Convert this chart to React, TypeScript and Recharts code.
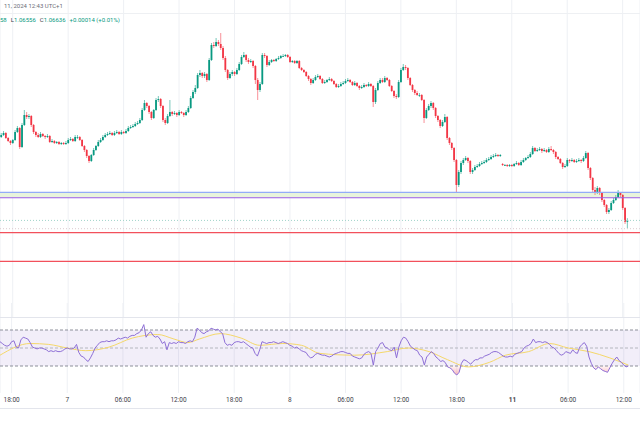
import { Area, Bar, CartesianGrid, ComposedChart, Line, ReferenceArea, ReferenceLine, XAxis, YAxis } from 'recharts'

// EUR/USD 15m candles, Nov 6 16:45 -> Nov 11 12:30 (UTC+1)
const closes = [
  1.0749, 1.0751, 1.0746, 1.0743, 1.0741, 1.0744, 1.0752, 1.0756, 1.0737, 1.0759,
  1.0769, 1.0767, 1.0768, 1.0759, 1.0752, 1.0749, 1.0747, 1.075, 1.0748, 1.0747,
  1.0748, 1.0742, 1.0743, 1.0741, 1.0742, 1.074, 1.0741, 1.074, 1.0741, 1.0744,
  1.0745, 1.0743, 1.0747, 1.0747, 1.0744, 1.0738, 1.0734, 1.0728, 1.0723, 1.0729,
  1.0734, 1.0738, 1.0742, 1.0744, 1.0747, 1.0749, 1.075, 1.0751, 1.0749, 1.0751,
  1.0752, 1.075, 1.0752, 1.0751, 1.0753, 1.0756, 1.0757, 1.0758, 1.076, 1.0761,
  1.0764, 1.0774, 1.0781, 1.0778, 1.0772, 1.0766, 1.0774, 1.0784, 1.0785, 1.0778,
  1.0764, 1.0761, 1.0768, 1.0772, 1.077, 1.0771, 1.0769, 1.0772, 1.0771, 1.0769,
  1.0772, 1.0776, 1.0786, 1.0792, 1.0796, 1.0809, 1.0811, 1.0808, 1.081, 1.0804,
  1.0824, 1.0839, 1.0838, 1.0842, 1.084, 1.0836, 1.0826, 1.0814, 1.0806, 1.081,
  1.0812, 1.081, 1.0814, 1.082, 1.0827, 1.0829, 1.0824, 1.0822, 1.0823, 1.0818,
  1.0804, 1.0794, 1.08, 1.0829, 1.0828, 1.0819, 1.0822, 1.0824, 1.0823, 1.0825,
  1.0826, 1.0828, 1.0828, 1.0829, 1.0827, 1.0822, 1.0823, 1.0821, 1.0823, 1.0816,
  1.0814, 1.0812, 1.0808, 1.0805, 1.0801, 1.0804, 1.0807, 1.0808, 1.0805, 1.0801,
  1.0802, 1.0804, 1.0805, 1.0803, 1.08, 1.0797, 1.0798, 1.08, 1.0801, 1.0803,
  1.0804, 1.0802, 1.0799, 1.0801, 1.0798, 1.0796, 1.0797, 1.0799, 1.0798, 1.08,
  1.0798, 1.0782, 1.0794, 1.0801, 1.0804, 1.0802, 1.0806, 1.0804, 1.0798, 1.0793,
  1.0788, 1.0787, 1.0802, 1.0814, 1.0817, 1.0816, 1.0806, 1.0799, 1.0794, 1.0791,
  1.0789, 1.0789, 1.0784, 1.0766, 1.0774, 1.0778, 1.0781, 1.0776, 1.0768, 1.0764,
  1.0758, 1.0762, 1.0767, 1.0746, 1.0741, 1.0736, 1.0724, 1.0699, 1.0712, 1.0721,
  1.0724, 1.0726, 1.0723, 1.0712, 1.0714, 1.0717, 1.0718, 1.072, 1.0721, 1.0722,
  1.0724, 1.0725, 1.0727, 1.0728, 1.0729, 1.0728, 1.0729, 1.0719, 1.0719, 1.0718,
  1.0719, 1.0718, 1.072, 1.0721, 1.0719, 1.0722, 1.0724, 1.0726, 1.0727, 1.073,
  1.0736, 1.0733, 1.0734, 1.0735, 1.0733, 1.0734, 1.0732, 1.0735, 1.0734, 1.0732,
  1.0727, 1.0725, 1.0721, 1.0717, 1.0718, 1.0724, 1.0723, 1.0724, 1.0722, 1.0723,
  1.0724, 1.0723, 1.0726, 1.0731, 1.0716, 1.0706, 1.0694, 1.0692, 1.0696, 1.0691,
  1.0684, 1.0679, 1.0672, 1.0674, 1.0681, 1.0684, 1.0687, 1.0691, 1.0689, 1.0676,
  1.06622, 1.06636,
]

const highs = [
  1.0751, 1.0753, 1.0752, 1.0747, 1.0744, 1.0745, 1.0754, 1.0758, 1.0757, 1.0761,
  1.0774, 1.0772, 1.077, 1.0769, 1.076, 1.0753, 1.0751, 1.0752, 1.0751, 1.0749,
  1.075, 1.0749, 1.0745, 1.0744, 1.0743, 1.0743, 1.0742, 1.0742, 1.0743, 1.0746,
  1.0747, 1.0746, 1.0749, 1.0749, 1.0748, 1.0745, 1.0739, 1.0735, 1.0729, 1.073,
  1.0736, 1.0739, 1.0744, 1.0746, 1.0749, 1.0751, 1.0752, 1.0753, 1.0752, 1.0753,
  1.0754, 1.0753, 1.0754, 1.0753, 1.0755, 1.0758, 1.0759, 1.076, 1.0762, 1.0763,
  1.0766, 1.0776, 1.0784, 1.0782, 1.0779, 1.0773, 1.0775, 1.0786, 1.0788, 1.0786,
  1.0779, 1.0766, 1.077, 1.0784, 1.0773, 1.0773, 1.0772, 1.0774, 1.0773, 1.0772,
  1.0774, 1.0778, 1.0788, 1.0794, 1.0799, 1.0811, 1.0814, 1.0812, 1.0812, 1.0811,
  1.0826, 1.0841, 1.0842, 1.0846, 1.0844, 1.0851, 1.0838, 1.0828, 1.0815, 1.0812,
  1.0814, 1.0813, 1.0816, 1.0822, 1.0829, 1.0832, 1.083, 1.0826, 1.0825, 1.0824,
  1.0819, 1.0806, 1.0802, 1.0831, 1.0831, 1.0829, 1.0824, 1.0825, 1.0825, 1.0826,
  1.0828, 1.0829, 1.083, 1.083, 1.083, 1.0828, 1.0824, 1.0824, 1.0824, 1.0824,
  1.0817, 1.0815, 1.0813, 1.0809, 1.0806, 1.0806, 1.0809, 1.081, 1.0809, 1.0806,
  1.0804, 1.0805, 1.0807, 1.0806, 1.0804, 1.0801, 1.08, 1.0802, 1.0803, 1.0805,
  1.0806, 1.0805, 1.0803, 1.0803, 1.0802, 1.0799, 1.0799, 1.0801, 1.08, 1.0802,
  1.0801, 1.0799, 1.0796, 1.0803, 1.0806, 1.0806, 1.0808, 1.0807, 1.0805, 1.0799,
  1.0794, 1.079, 1.0804, 1.0816, 1.082, 1.0819, 1.0817, 1.0807, 1.08, 1.0795,
  1.0793, 1.0791, 1.079, 1.0785, 1.0776, 1.078, 1.0783, 1.0782, 1.0777, 1.0769,
  1.0765, 1.0764, 1.077, 1.0768, 1.0747, 1.0742, 1.0737, 1.0725, 1.0714, 1.0723,
  1.0726, 1.0728, 1.0727, 1.0724, 1.0716, 1.0719, 1.072, 1.0722, 1.0723, 1.0724,
  1.0726, 1.0727, 1.0729, 1.073, 1.0731, 1.073, 1.073, 1.0721, 1.072, 1.072,
  1.072, 1.072, 1.0721, 1.0723, 1.0722, 1.0724, 1.0726, 1.0727, 1.0729, 1.0732,
  1.0738, 1.0737, 1.0736, 1.0737, 1.0736, 1.0736, 1.0735, 1.0737, 1.0738, 1.0735,
  1.0733, 1.0728, 1.0726, 1.0722, 1.072, 1.0726, 1.0725, 1.0726, 1.0725, 1.0725,
  1.0726, 1.0725, 1.0728, 1.0733, 1.0732, 1.0717, 1.0707, 1.0697, 1.0698, 1.0697,
  1.0692, 1.0685, 1.068, 1.0676, 1.0683, 1.0686, 1.0689, 1.0694, 1.0692, 1.069,
  1.0677, 1.06658,
]

const lows = [
  1.0746, 1.0748, 1.0745, 1.0742, 1.0739, 1.074, 1.0743, 1.0751, 1.0735, 1.0736,
  1.0758, 1.0765, 1.0765, 1.0757, 1.075, 1.0747, 1.0746, 1.0746, 1.0747, 1.0745,
  1.0746, 1.0741, 1.0741, 1.074, 1.074, 1.0739, 1.0739, 1.0739, 1.0739, 1.074,
  1.0743, 1.0742, 1.0742, 1.0745, 1.0743, 1.0737, 1.0732, 1.0726, 1.0721, 1.0722,
  1.0728, 1.0733, 1.0737, 1.0741, 1.0743, 1.0746, 1.0748, 1.0749, 1.0748, 1.0748,
  1.075, 1.0749, 1.0749, 1.075, 1.075, 1.0752, 1.0755, 1.0756, 1.0757, 1.0759,
  1.076, 1.0763, 1.0773, 1.0776, 1.077, 1.0764, 1.0765, 1.0773, 1.0782, 1.0776,
  1.0762, 1.0759, 1.076, 1.0767, 1.0768, 1.0769, 1.0767, 1.0768, 1.077, 1.0767,
  1.0768, 1.0771, 1.0775, 1.0785, 1.079, 1.0795, 1.0807, 1.0806, 1.0806, 1.0802,
  1.0803, 1.0823, 1.0836, 1.0837, 1.0838, 1.0834, 1.0824, 1.0812, 1.0804, 1.0805,
  1.0808, 1.0808, 1.0809, 1.0813, 1.0819, 1.0826, 1.0822, 1.082, 1.0821, 1.0816,
  1.08, 1.0784, 1.0792, 1.0799, 1.0826, 1.0817, 1.0818, 1.0821, 1.0822, 1.0822,
  1.0824, 1.0825, 1.0827, 1.0827, 1.0826, 1.0821, 1.0821, 1.082, 1.082, 1.0815,
  1.0813, 1.0811, 1.0807, 1.0803, 1.0799, 1.08, 1.0803, 1.0806, 1.0804, 1.08,
  1.08, 1.0801, 1.0803, 1.0802, 1.0799, 1.0796, 1.0796, 1.0797, 1.0799, 1.08,
  1.0802, 1.0801, 1.0798, 1.0798, 1.0797, 1.0794, 1.0795, 1.0796, 1.0797, 1.0797,
  1.0797, 1.0777, 1.078, 1.0793, 1.08, 1.0801, 1.0801, 1.0803, 1.0797, 1.0792,
  1.0786, 1.0785, 1.0786, 1.0801, 1.0813, 1.0814, 1.0804, 1.0798, 1.0792, 1.0789,
  1.0788, 1.0787, 1.0783, 1.0761, 1.0765, 1.0773, 1.0776, 1.0774, 1.0766, 1.0762,
  1.0756, 1.0757, 1.0761, 1.0744, 1.0739, 1.0734, 1.0722, 1.0692, 1.0697, 1.071,
  1.0719, 1.0723, 1.0721, 1.071, 1.071, 1.0713, 1.0716, 1.0717, 1.0719, 1.072,
  1.0721, 1.0723, 1.0724, 1.0726, 1.0727, 1.0727, 1.0727, 1.0718, 1.0718, 1.0717,
  1.0717, 1.0717, 1.0717, 1.0719, 1.0718, 1.0718, 1.0721, 1.0723, 1.0725, 1.0726,
  1.0729, 1.0732, 1.0732, 1.0733, 1.0731, 1.0732, 1.0731, 1.0731, 1.0733, 1.073,
  1.0725, 1.0724, 1.072, 1.0715, 1.0716, 1.0717, 1.0721, 1.0722, 1.0721, 1.0721,
  1.0722, 1.0721, 1.0722, 1.0725, 1.0714, 1.0704, 1.0692, 1.0689, 1.069, 1.0689,
  1.0682, 1.0677, 1.067, 1.067, 1.0673, 1.068, 1.0683, 1.0686, 1.0687, 1.0674,
  1.066, 1.06556,
]

const firstOpen = 1.0747
const weekOpenIndex = 217 // first bar after the weekend
const weekOpen = 1.072

// RSI(14)
const rsiValues = [
  57, 55, 53, 52, 53, 57, 58, 51, 50, 59,
  62, 61, 60, 56, 51, 50, 49, 50, 50, 49,
  48, 46, 47, 46, 47, 46, 46, 47, 49, 50,
  49, 49, 50, 54, 45, 41, 40, 37, 35, 39,
  44, 50, 53, 56, 57, 57, 58, 57, 58, 58,
  59, 61, 60, 61, 62, 61, 63, 64, 64, 66,
  67, 70, 76, 62, 66, 68, 64, 62, 63, 60,
  55, 57, 48, 56, 55, 56, 55, 57, 56, 56,
  55, 57, 58, 57, 62, 72, 70, 67, 66, 68,
  69, 72, 71, 70, 71, 68, 66, 56, 53, 54,
  53, 56, 57, 57, 56, 57, 55, 53, 51, 50,
  44, 41, 48, 57, 56, 55, 56, 56, 57, 56,
  55, 56, 57, 56, 55, 53, 52, 50, 51, 49,
  47, 46, 45, 41, 39, 40, 43, 44, 43, 42,
  42, 41, 40, 41, 43, 44, 45, 46, 46, 45,
  44, 44, 41, 40, 39, 38, 39, 43, 45, 46,
  44, 31, 46, 50, 55, 56, 51, 50, 48, 47,
  51, 39, 51, 58, 62, 61, 57, 52, 50, 48,
  47, 42, 40, 31, 40, 43, 46, 44, 40, 38,
  35, 36, 34, 29, 28, 26, 22, 20, 23, 33,
  37, 36, 34, 32, 35, 37, 37, 39, 39, 41,
  42, 43, 45, 46, 46, 45, 43, 41, 40, 40,
  41, 40, 43, 44, 45, 46, 50, 52, 53, 55,
  60, 56, 57, 57, 56, 57, 56, 54, 51, 50,
  47, 44, 42, 43, 46, 45, 44, 48, 45, 44,
  51, 54, 56, 52, 40, 33, 28, 26, 29, 27,
  25, 24, 23, 28, 33, 37, 40, 36, 34, 31,
  29, 30,
]

// RSI-based moving average, read at these bars
const maIdx = [0, 13, 21, 29, 37, 47, 57, 68, 75, 81, 86, 95, 104, 112, 122, 130, 138, 153, 167, 176, 185, 193, 202, 211, 218, 228, 237, 245, 254, 263, 271]
const maVal = [42, 55, 54, 50, 47, 51, 61, 65, 60, 56, 60, 66, 61, 53, 55, 53, 44, 42, 46, 50, 46, 37, 29, 34, 42, 46, 55, 50, 46, 39, 31]

const tickIdx = [5, 29, 53, 77, 101, 125, 149, 173, 197, 221, 245, 269]
const tickLabels = ['18:00', '7', '06:00', '12:00', '18:00', '8', '06:00', '12:00', '18:00', '11', '06:00', '12:00']

// horizontal price levels
const zoneTop = 1.06917
const zoneBottom = 1.06863
const lastPrice = 1.06636
const bidLine = 1.06553
const redLevels = [1.06513, 1.06227]

const UP = '#089981'
const DOWN = '#f23645'
const FONT = 'Roboto, "Noto Sans", sans-serif'
const W = 640
const emptySlots = 5

const table: any[] = closes.map((close, i) => {
  const open = i === 0 ? firstOpen : i === weekOpenIndex ? weekOpen : closes[i - 1]
  return { i, open, close, high: highs[i], low: lows[i], range: [lows[i], highs[i]], rsi: rsiValues[i] }
})
for (let k = 0; k < emptySlots; k++) table.push({ i: closes.length + k })
maIdx.forEach((idx, k) => {
  table[idx].ma = maVal[k]
})

const Candle = (props: any) => {
  const { x, width, payload } = props
  let { y, height } = props
  if (!payload || payload.open == null) return null
  if (height < 0) {
    y += height
    height = -height
  }
  const { open, close, high, low } = payload
  const k = height / (high - low)
  const yO = y + (high - open) * k
  const yC = y + (high - close) * k
  const color = close >= open ? UP : DOWN
  const cx = x + width / 2
  const bw = 1.8
  return (
    <g>
      <line x1={cx} x2={cx} y1={y} y2={y + height} stroke={color} strokeOpacity={0.55} strokeWidth={1} />
      <rect x={cx - bw / 2} y={Math.min(yO, yC)} width={bw} height={Math.max(Math.abs(yC - yO), 0.8)} fill={color} />
    </g>
  )
}

const TimeTick = (props: any) => {
  const { x, y, payload } = props
  const label = tickLabels[tickIdx.indexOf(payload.value)]
  return (
    <text x={x} y={y + 6.5} textAnchor="middle" dominantBaseline="central" fontSize={6.5} fontFamily={FONT}
      fill="#3d4049" fontWeight={label === '11' ? 700 : 400}>
      {label}
    </text>
  )
}

const hLine = (top: number, color: string) => (
  <div style={{ position: 'absolute', left: 0, top, width: W, height: 1, background: color }} />
)

export default function App() {
  return (
    <div style={{ position: 'absolute', left: 0, top: 0, width: W, height: 426, background: '#fff', overflow: 'hidden', fontFamily: FONT }}>
      <div style={{ position: 'absolute', left: 0, top: 0 }}>
        <ComposedChart width={W} height={317} data={table} margin={{ top: 0, right: 0, bottom: 0, left: 0 }}>
          <CartesianGrid horizontal={false} stroke="#eef0f4" />
          <XAxis dataKey="i" type="category" hide ticks={tickIdx} interval={0} />
          <YAxis hide domain={[1.0567, 1.0884]} allowDataOverflow />
          <ReferenceArea y1={zoneBottom} y2={zoneTop} fill="#e6f3d8" fillOpacity={0.9} stroke="none" />
          <ReferenceLine y={zoneTop} stroke="#93acf7" strokeWidth={1.2} />
          <ReferenceLine y={zoneBottom} stroke="#9b5de5" strokeWidth={1.1} />
          <ReferenceLine y={lastPrice} stroke="#9fd3c9" strokeDasharray="1 2" />
          <ReferenceLine y={bidLine} stroke="#dccbcf" strokeDasharray="1 2" />
          {redLevels.map((v) => (
            <ReferenceLine key={v} y={v} stroke="#f2505b" strokeWidth={1.3} />
          ))}
          <Bar dataKey="range" shape={<Candle />} isAnimationActive={false} />
        </ComposedChart>
      </div>

      <div style={{ position: 'absolute', left: 0, top: 303 }}>
        <ComposedChart width={W} height={105} data={table} margin={{ top: 0, right: 0, bottom: 0, left: 0 }}>
          <defs>
            {/* oversold fill fades out towards the 30 line (y=63 inside this chart) */}
            <linearGradient id="oversold" gradientUnits="userSpaceOnUse" x1="0" y1="63" x2="0" y2="78">
              <stop offset="0" stopColor="#f23645" stopOpacity={0.05} />
              <stop offset="1" stopColor="#f23645" stopOpacity={0.55} />
            </linearGradient>
          </defs>
          <CartesianGrid horizontal={false} stroke="#eef0f4" />
          <XAxis dataKey="i" type="category" ticks={tickIdx} interval={0} height={15} axisLine={false}
            tickLine={false} tickSize={0} tickMargin={0} tick={<TimeTick />} />
          <YAxis hide domain={[0, 100]} />
          <ReferenceArea y1={30} y2={70} fill="#7e57c2" fillOpacity={0.1} stroke="none" />
          <ReferenceLine y={70} stroke="#8c8f99" strokeDasharray="3 2" />
          <ReferenceLine y={50} stroke="#b4b6be" strokeDasharray="3 2" />
          <ReferenceLine y={30} stroke="#8c8f99" strokeDasharray="3 2" />
          <Area dataKey={(d: any) => (d.rsi == null ? null : d.rsi < 30 ? [d.rsi, 30] : [30, 30])} stroke="none"
            fill="url(#oversold)" fillOpacity={1} isAnimationActive={false} />
          <Line dataKey="ma" type="monotone" connectNulls stroke="#f5d86a" strokeWidth={1} dot={false} isAnimationActive={false} />
          <Line dataKey="rsi" type="linear" stroke="#8e6fd6" strokeWidth={1} dot={false} isAnimationActive={false} />
        </ComposedChart>
      </div>

      {hLine(13, '#eef0f3')}
      {hLine(317, '#e3e5ec')}
      {hLine(408, '#e3e5ec')}

      <div style={{ position: 'absolute', left: 4, top: 2, fontSize: 6, color: '#6a6d78', whiteSpace: 'nowrap' }}>
        11, 2024 12:43 UTC+1
      </div>
      <div style={{ position: 'absolute', left: 0, top: 16, fontSize: 6, color: UP, whiteSpace: 'nowrap' }}>
        <span>58</span>
        <span style={{ color: '#3d4049', marginLeft: 4 }}>L</span>1.06556
        <span style={{ color: '#3d4049', marginLeft: 4 }}>C</span>1.06636
        <span style={{ marginLeft: 4 }}>+0.00014 (+0.01%)</span>
      </div>
    </div>
  )
}
